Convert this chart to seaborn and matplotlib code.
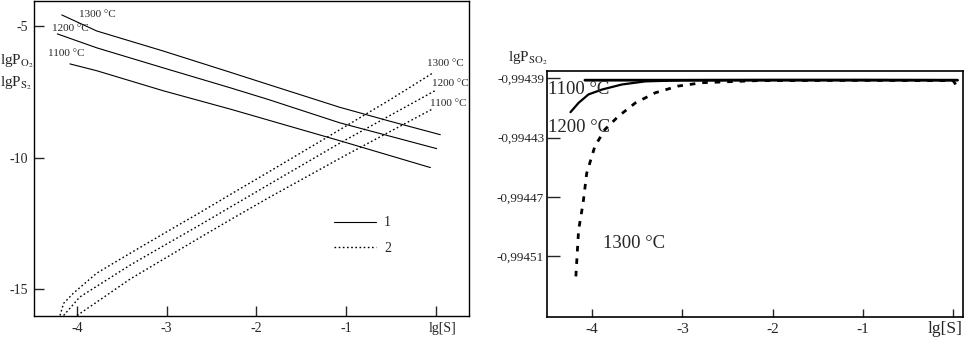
import numpy as np
import pandas as pd
import matplotlib
matplotlib.use("Agg")
import matplotlib.pyplot as plt
from matplotlib.lines import Line2D
from matplotlib.ticker import FuncFormatter
import seaborn as sns

# ---------------- data ----------------
# Left panel: curves 1 (lgP_O2, solid) and 2 (lgP_S2, dotted)
o2_1300_x = [-4.17, -3.78, -3.04, -2.29, -1.87, -1.07, -0.51, 0.05]
o2_1300_y = [-4.58, -5.19, -5.95, -6.76, -7.22, -8.09, -8.62, -9.13]
o2_1200_x = [-4.22, -3.78, -3.04, -2.29, -1.87, -1.07, 0.01]
o2_1200_y = [-5.30, -5.83, -6.59, -7.35, -7.79, -8.68, -9.66]
o2_1100_x = [-4.08, -3.78, -3.04, -2.29, -1.07, -0.06]
o2_1100_y = [-6.44, -6.70, -7.46, -8.16, -9.36, -10.38]

s2_1300_x = [-4.19, -4.15, -4.04, -3.78, -3.41, -3.04, -2.66, -2.29, -1.87, -1.07, -0.51, -0.03]
s2_1300_y = [-16.0, -15.54, -15.15, -14.39, -13.64, -12.90, -12.15, -11.40, -10.56, -8.94, -7.80, -6.78]
s2_1200_x = [-4.15, -3.97, -3.41, -3.04, -2.66, -2.29, -1.85, -1.07, -0.01]
s2_1200_y = [-16.0, -15.30, -14.09, -13.36, -12.62, -11.88, -11.00, -9.45, -7.46]
s2_1100_x = [-4.00, -3.78, -3.41, -3.04, -2.66, -2.29, -1.85, -1.00, -0.03]
s2_1100_y = [-16.0, -15.49, -14.62, -13.87, -13.10, -12.36, -11.50, -9.90, -8.14]

# Right panel: lgP_SO2
so2_1100_x = [-4.08, -3.0, -2.0, -1.0, 0.05]
so2_1100_y = [-0.9943912, -0.9943912, -0.9943911, -0.9943911, -0.9943912]
so2_1200_x = [-4.24, -4.15, -4.04, -3.89, -3.67, -3.41, -3.0, -2.0, 0.0]
so2_1200_y = [-0.9944128, -0.9944065, -0.9944008, -0.9943975, -0.9943941, -0.9943920,
              -0.9943913, -0.9943912, -0.9943912]
so2_1300_x = [-4.18, -4.15, -4.10, -4.06, -3.97, -3.86, -3.71, -3.52, -3.30, -3.05, -2.78,
              -2.17, -1.0, 0.0, 0.04]
so2_1300_y = [-0.9945236, -0.9944924, -0.9944741, -0.9944540, -0.9944359, -0.9944246,
              -0.9944156, -0.9944065, -0.9943997, -0.9943952, -0.9943929, -0.9943915,
              -0.9943913, -0.9943915, -0.9943950]

temps = ["1100 °C", "1200 °C", "1300 °C"]
x_ticks = [-4, -3, -2, -1, 0]
x_ticklabels = ["-4", "-3", "-2", "-1", ""]
x_axis_name = "lg[S]"
left_yticks = [-5, -10, -15]
left_yticklabels = ["-5", "-10", "-15"]
right_yticks = [-0.99439, -0.99443, -0.99447, -0.99451]
legend_labels = ["1", "2"]

# ---------------- style ----------------
sns.set_style("ticks")
plt.rcParams["font.family"] = ["Liberation Serif", "DejaVu Serif"]
plt.rcParams["mathtext.fontset"] = "stix"
plt.rcParams["axes.unicode_minus"] = False

fig = plt.figure(figsize=(9.65, 3.38), dpi=100)
axL = fig.add_axes([34 / 965, 22 / 338, 435 / 965, 315 / 338])
axR = fig.add_axes([547 / 965, 21 / 338, 416 / 965, 246 / 338])

def draw(ax, xs, ys, **kw):
    df = pd.DataFrame({"x": xs, "y": ys})
    sns.lineplot(data=df, x="x", y="y", ax=ax, sort=False, estimator=None,
                 color="black", **kw)

# Left panel
for xs, ys in [(o2_1300_x, o2_1300_y), (o2_1200_x, o2_1200_y), (o2_1100_x, o2_1100_y)]:
    draw(axL, xs, ys, linewidth=0.8)
for xs, ys in [(s2_1300_x, s2_1300_y), (s2_1200_x, s2_1200_y), (s2_1100_x, s2_1100_y)]:
    draw(axL, xs, ys, linewidth=1.0, linestyle=(0, (1.2, 1.8)))

axL.set_xlim(-4.48, 0.37)
axL.set_ylim(-16.02, -4.05)
axL.set_xticks(x_ticks)
axL.set_xticklabels(x_ticklabels, fontsize=10)
axL.set_yticks(left_yticks)
axL.set_yticklabels(left_yticklabels, fontsize=10)
axL.tick_params(direction="in", length=7, width=1, pad=4)
axL.set_xlabel("")
axL.set_ylabel("")
for s in axL.spines.values():
    s.set_linewidth(1.0)
    s.set_color("black")
axL.annotate(x_axis_name, xy=(0.08, 0), xycoords=axL.get_xaxis_transform(),
             xytext=(0, -4), textcoords="offset points", ha="center", va="top", fontsize=10)

tk = dict(fontsize=8, ha="left", va="center")
axL.text(-3.98, -4.58, temps[2], **tk)
axL.text(-4.28, -5.11, temps[1], **tk)
axL.text(-4.32, -6.06, temps[0], **tk)
axL.text(-0.10, -6.44, temps[2], **tk)
axL.text(-0.04, -7.20, temps[1], **tk)
axL.text(-0.06, -7.95, temps[0], **tk)

handles = [Line2D([], [], color="black", lw=0.8),
           Line2D([], [], color="black", lw=1.0, linestyle=(0, (1.2, 1.8)))]
axL.legend(handles, legend_labels, frameon=False, fontsize=10, loc="center left",
           bbox_to_anchor=(0.69, 0.255), borderaxespad=0, borderpad=0,
           handlelength=3.0, handletextpad=0.6, labelspacing=0.9)

# Right panel
draw(axR, so2_1100_x, so2_1100_y, linewidth=2.0)
draw(axR, so2_1200_x, so2_1200_y, linewidth=1.6)
draw(axR, so2_1300_x, so2_1300_y, linewidth=2.0, linestyle=(0, (2.0, 2.5)))

axR.set_xlim(-4.50, 0.11)
axR.set_ylim(-0.994551, -0.994385)
axR.set_xticks(x_ticks)
axR.set_xticklabels(x_ticklabels, fontsize=11)
axR.set_yticks(right_yticks)
axR.yaxis.set_major_formatter(FuncFormatter(lambda v, p: f"{v:.5f}".replace(".", ",")))
axR.tick_params(axis="y", direction="in", length=9, width=1, labelsize=9.5, pad=2)
axR.tick_params(axis="x", direction="in", length=6, width=1, pad=4)
axR.set_xlabel("")
axR.set_ylabel("")
for s in axR.spines.values():
    s.set_linewidth(1.2)
    s.set_color("black")
axR.annotate(x_axis_name, xy=(-0.09, 0), xycoords=axR.get_xaxis_transform(),
             xytext=(0, -3), textcoords="offset points", ha="center", va="top", fontsize=12.5)

tk2 = dict(fontsize=13.5, ha="left", va="center")
axR.text(-4.49, -0.9943975, temps[0], **tk2)
axR.text(-4.49, -0.9944232, temps[1], **tk2)
axR.text(-3.88, -0.9945012, temps[2], **tk2)

# axis titles
fig.text(0.0, 1 - 61 / 338, r"lgP$_{\mathrm{O_2}}$", fontsize=11, ha="left", va="center")
fig.text(0.0, 1 - 83 / 338, r"lgP$_{\mathrm{S_2}}$", fontsize=11, ha="left", va="center")
fig.text(508 / 965, 1 - 58 / 338, r"lgP$_{\mathrm{SO_2}}$", fontsize=11, ha="left", va="center")

fig.savefig("out.png", dpi=100)
